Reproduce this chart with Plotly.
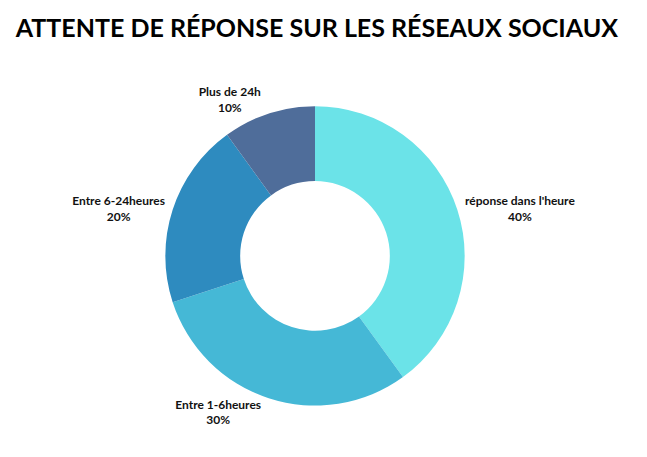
import plotly.graph_objects as go

labels = ["réponse dans l'heure", "Entre 1-6heures", "Entre 6-24heures", "Plus de 24h"]
values = [40, 30, 20, 10]
colors = ["#6BE3E8", "#45B8D6", "#2E8BBF", "#4F6D9A"]

fig = go.Figure(go.Pie(
    labels=labels, values=values, hole=0.5, sort=False, direction="clockwise",
    rotation=0, marker=dict(colors=colors, line=dict(width=0)),
    texttemplate="<b>%{label}</b><br><b>%{percent:.0%}</b>",
    textposition="outside", textfont=dict(family="Lato", size=12, color="#111"),
    domain=dict(x=[0.232, 0.717], y=[0.13, 0.785]),
    showlegend=False, hoverinfo="label+percent",
))

fig.update_layout(
    width=647, height=457,
    title=dict(text="<b>ATTENTE DE RÉPONSE SUR LES RÉSEAUX SOCIAUX</b>",
               x=0.012, xanchor="left", y=0.955, yanchor="middle",
               font=dict(family="Lato", size=25, color="#000")),
    margin=dict(l=0, r=0, t=0, b=0),
    paper_bgcolor="white",
)

fig.write_html("out.html")
